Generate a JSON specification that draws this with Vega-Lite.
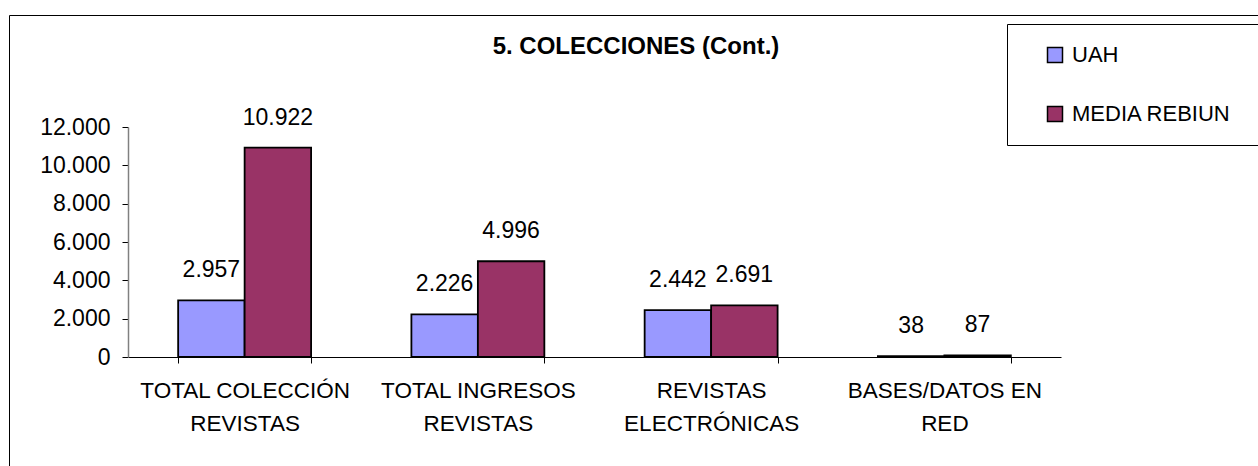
{
  "$schema": "https://vega.github.io/schema/vega-lite/v6.json",
  "autosize": {"type": "none"},
  "padding": {"left": 9, "top": 15, "right": 0, "bottom": 0},
  "width": 1270,
  "height": 460,
  "background": "white",
  "title": {
    "text": "5. COLECCIONES (Cont.)",
    "anchor": "middle",
    "frame": "group",
    "dx": -8,
    "offset": -63,
    "baseline": "alphabetic",
    "font": "Liberation Sans",
    "fontSize": 24,
    "fontWeight": "bold",
    "color": "black"
  },
  "data": {
    "values": [
      {"categoria": "TOTAL COLECCIÓN|REVISTAS", "serie": "UAH", "valor": 2957},
      {"categoria": "TOTAL COLECCIÓN|REVISTAS", "serie": "MEDIA REBIUN", "valor": 10922},
      {"categoria": "TOTAL INGRESOS|REVISTAS", "serie": "UAH", "valor": 2226},
      {"categoria": "TOTAL INGRESOS|REVISTAS", "serie": "MEDIA REBIUN", "valor": 4996},
      {"categoria": "REVISTAS|ELECTRÓNICAS", "serie": "UAH", "valor": 2442},
      {"categoria": "REVISTAS|ELECTRÓNICAS", "serie": "MEDIA REBIUN", "valor": 2691},
      {"categoria": "BASES/DATOS EN|RED", "serie": "UAH", "valor": 38},
      {"categoria": "BASES/DATOS EN|RED", "serie": "MEDIA REBIUN", "valor": 87}
    ]
  },
  "encoding": {
    "x": {
      "field": "categoria",
      "type": "nominal",
      "sort": null,
      "scale": {"range": [119, 1052], "paddingInner": 0.43, "paddingOuter": 0.215},
      "axis": {
        "title": null,
        "orient": "bottom",
        "offset": -118,
        "labelAngle": 0,
        "labelExpr": "split(datum.label, '|')",
        "labelFont": "Liberation Sans",
        "labelFontSize": 22.5,
        "labelColor": "black",
        "labelLineHeight": 33,
        "labelPadding": 16,
        "labelLimit": 400,
        "tickBand": "extent",
        "tickSize": 6,
        "tickColor": "black",
        "domainColor": "black",
        "domainWidth": 1,
        "grid": false
      }
    },
    "xOffset": {"field": "serie", "type": "nominal", "sort": ["UAH", "MEDIA REBIUN"]},
    "y": {
      "field": "valor",
      "type": "quantitative",
      "scale": {"domain": [0, 12000], "range": [342, 112], "nice": false, "zero": true},
      "axis": {
        "title": null,
        "orient": "left",
        "offset": -119,
        "values": [0, 2000, 4000, 6000, 8000, 10000, 12000],
        "format": ",d",
        "labelFont": "Liberation Sans",
        "labelFontSize": 23,
        "labelColor": "black",
        "labelPadding": 12,
        "tickSize": 6,
        "tickColor": "black",
        "domainColor": "#808080",
        "domainWidth": 1.5,
        "grid": false
      }
    }
  },
  "layer": [
    {
      "mark": {"type": "bar", "stroke": "black", "strokeWidth": 1.8},
      "encoding": {
        "color": {
          "field": "serie",
          "type": "nominal",
          "sort": ["UAH", "MEDIA REBIUN"],
          "scale": {"domain": ["UAH", "MEDIA REBIUN"], "range": ["#9999FF", "#993366"]},
          "legend": {
            "title": null,
            "orient": "none",
            "legendX": 998,
            "legendY": 9,
            "fillColor": "white",
            "strokeColor": "black",
            "padding": 20,
            "symbolOffset": 17,
            "symbolType": "square",
            "symbolSize": 225,
            "symbolStrokeColor": "black",
            "symbolStrokeWidth": 1.5,
            "rowPadding": 37,
            "labelOffset": 6,
            "labelFont": "Liberation Sans",
            "labelFontSize": 22,
            "labelColor": "black",
            "labelLimit": 400,
            "labelExpr": "datum.label + '\u00a0\u00a0\u00a0\u00a0\u200b'"
          }
        }
      }
    },
    {
      "mark": {
        "type": "text",
        "baseline": "alphabetic",
        "dy": -23,
        "font": "Liberation Sans",
        "fontSize": 23,
        "color": "black"
      },
      "encoding": {
        "text": {"field": "valor", "type": "quantitative", "format": ",d"}
      }
    }
  ],
  "config": {
    "locale": {
      "number": {"decimal": ",", "thousands": ".", "grouping": [3], "currency": ["", " €"]}
    },
    "view": {"stroke": "black", "strokeWidth": 1}
  }
}
